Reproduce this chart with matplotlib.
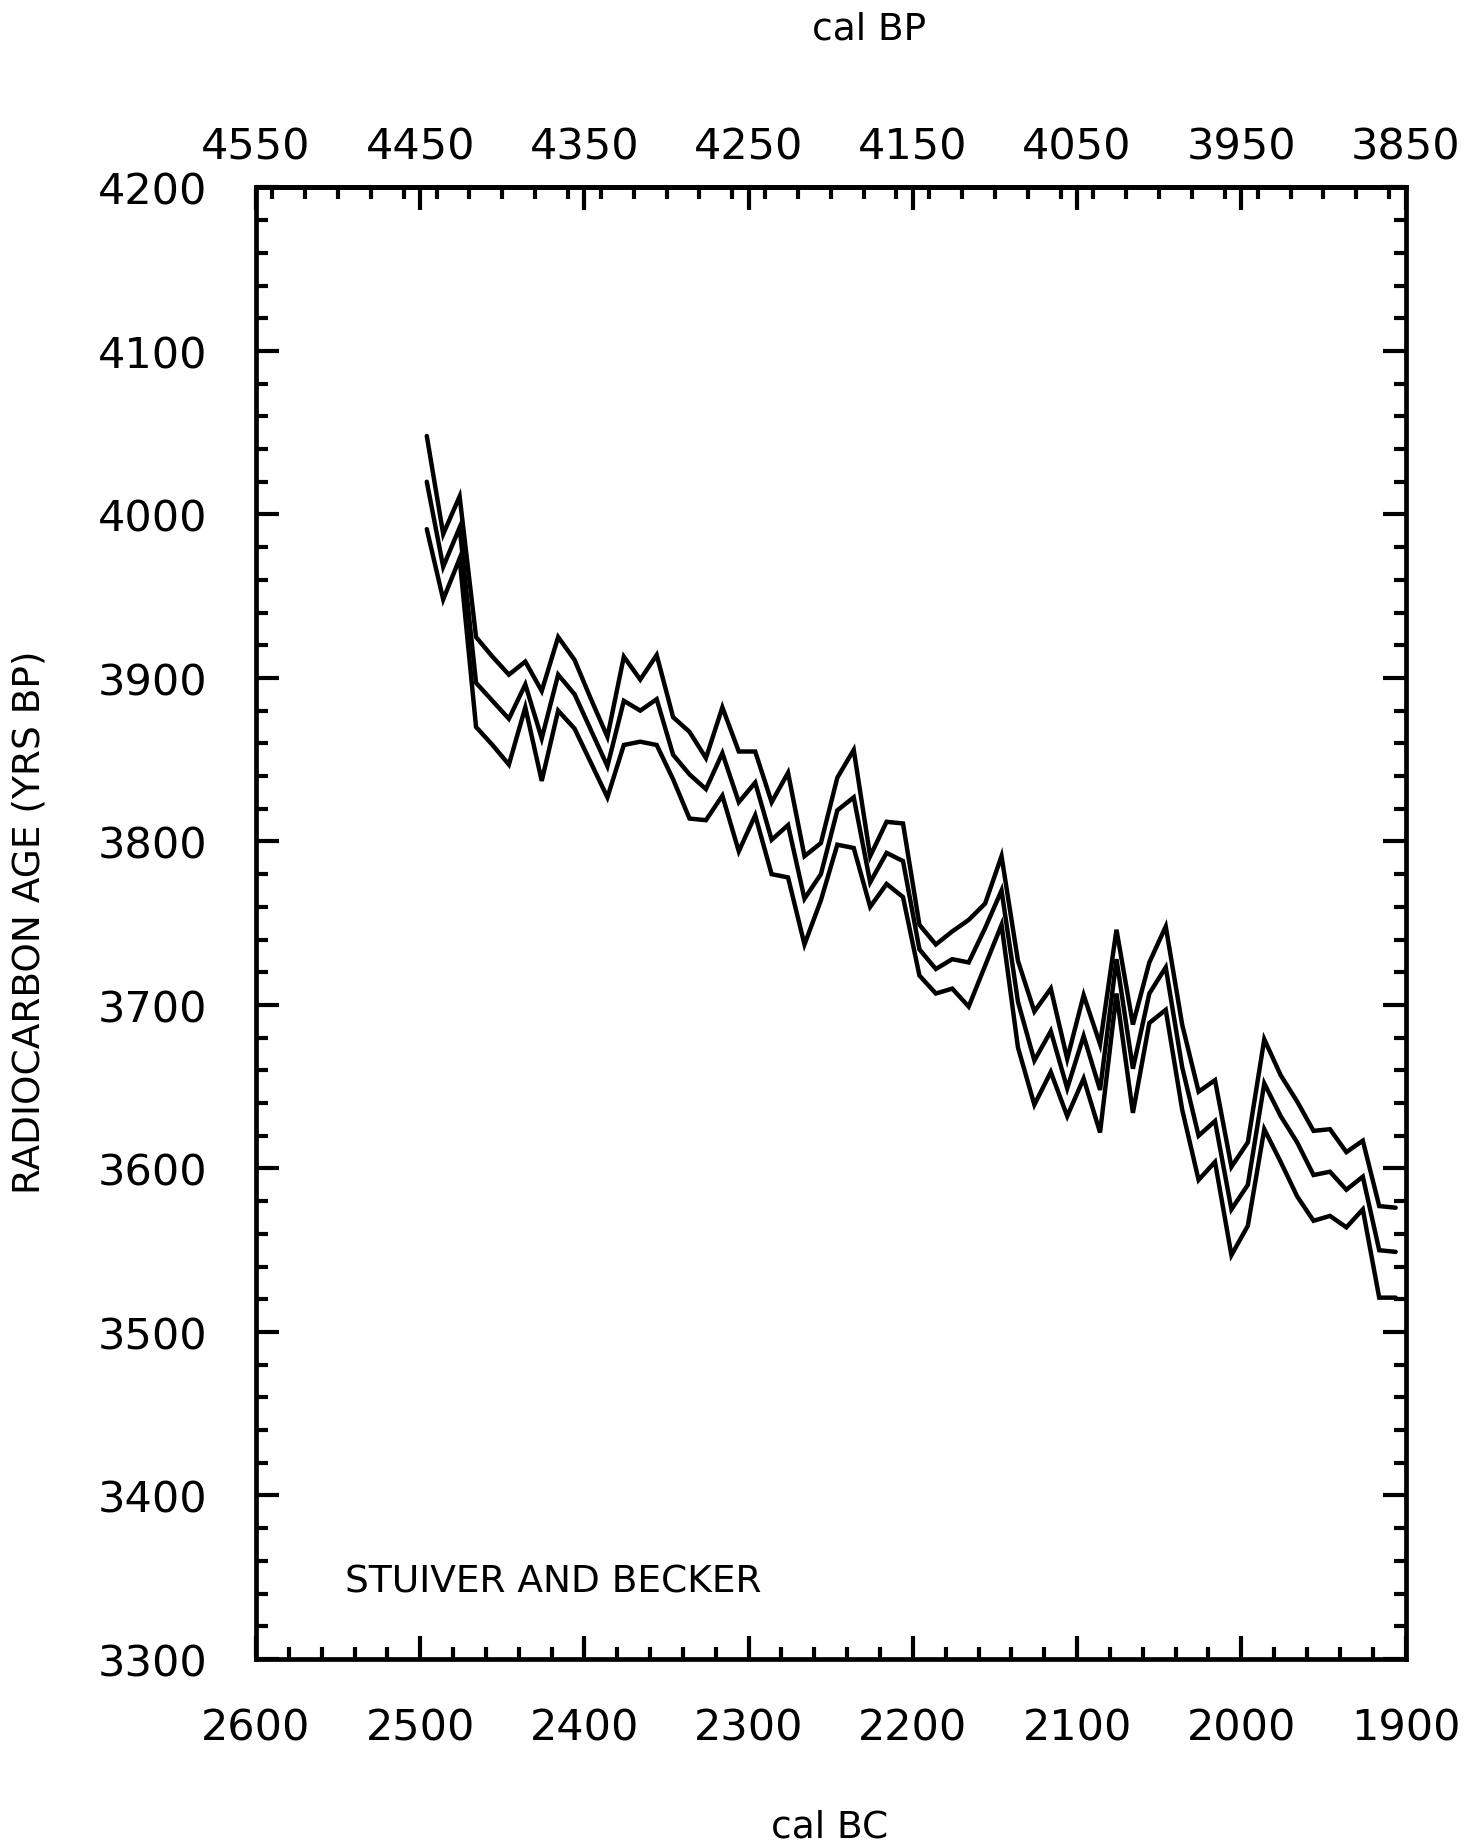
import matplotlib
matplotlib.use("Agg")
import matplotlib.pyplot as plt
from matplotlib.ticker import FixedLocator, MultipleLocator

# Calibrated decadal radiocarbon ages (central curve with its +/- 1 sigma band)
cal_bc = [2496, 2486, 2476, 2466, 2456, 2446, 2436, 2426, 2416, 2406,
          2396, 2386, 2376, 2366, 2356, 2346, 2336, 2326, 2316, 2306,
          2296, 2286, 2276, 2266, 2256, 2246, 2236, 2226, 2216, 2206,
          2196, 2186, 2176, 2166, 2156, 2146, 2136, 2126, 2116, 2106,
          2096, 2086, 2076, 2066, 2056, 2046, 2036, 2026, 2016, 2006,
          1996, 1986, 1976, 1966, 1956, 1946, 1936, 1926, 1916, 1906]

age_upper = [4048, 3988, 4011, 3925, 3913, 3902, 3910, 3892, 3925, 3911,
             3887, 3864, 3913, 3899, 3914, 3876, 3867, 3851, 3882, 3855,
             3855, 3824, 3842, 3791, 3799, 3839, 3856, 3791, 3812, 3811,
             3749, 3737, 3745, 3752, 3762, 3791, 3727, 3696, 3710, 3667,
             3706, 3676, 3746, 3688, 3726, 3748, 3688, 3647, 3654, 3601,
             3616, 3679, 3657, 3641, 3623, 3624, 3610, 3617, 3577, 3576]

age_mid = [4020, 3968, 3992, 3897, 3886, 3875, 3896, 3863, 3902, 3890,
           3868, 3846, 3886, 3880, 3887, 3853, 3841, 3832, 3854, 3824,
           3836, 3801, 3810, 3765, 3780, 3819, 3827, 3775, 3793, 3788,
           3734, 3722, 3728, 3726, 3747, 3770, 3702, 3666, 3684, 3649,
           3681, 3648, 3728, 3661, 3707, 3723, 3662, 3620, 3629, 3575,
           3590, 3652, 3632, 3616, 3596, 3598, 3587, 3595, 3550, 3549]

age_lower = [3991, 3948, 3973, 3870, 3859, 3847, 3882, 3837, 3880, 3869,
             3848, 3827, 3859, 3861, 3859, 3838, 3814, 3813, 3828, 3794,
             3816, 3780, 3778, 3737, 3764, 3798, 3796, 3760, 3774, 3766,
             3718, 3707, 3710, 3699, 3724, 3749, 3674, 3639, 3659, 3632,
             3655, 3622, 3707, 3634, 3689, 3697, 3636, 3593, 3604, 3547,
             3565, 3624, 3604, 3583, 3568, 3571, 3564, 3575, 3521, 3521]

bc_ticks = [2600, 2500, 2400, 2300, 2200, 2100, 2000, 1900]
bp_ticks = [4550, 4450, 4350, 4250, 4150, 4050, 3950, 3850]
age_ticks = [3300, 3400, 3500, 3600, 3700, 3800, 3900, 4000, 4100, 4200]

plt.rcParams["font.family"] = ["DejaVu Sans"]

W, H = 1475, 1849
fig = plt.figure(figsize=(W / 100, H / 100), dpi=100)
left, right, top, bottom = 256, 1405.5, 188.4, 1660
ax = fig.add_axes([left / W, 1 - bottom / H, (right - left) / W, (bottom - top) / H])

for series in (age_upper, age_mid, age_lower):
    ax.plot(cal_bc, series, color="black", lw=3.2,
            solid_joinstyle="miter", solid_capstyle="round")

ax.set_xlim(2600, 1900)
ax.set_ylim(3300, 4200)

for sp in ax.spines.values():
    sp.set_linewidth(3.4)

ax.xaxis.set_major_locator(FixedLocator(bc_ticks))
ax.xaxis.set_minor_locator(MultipleLocator(20))
ax.yaxis.set_major_locator(FixedLocator(age_ticks))
ax.yaxis.set_minor_locator(MultipleLocator(20))

ax.tick_params(axis="both", which="both", direction="in", width=3.0,
               right=True, top=False, labelsize=31)
ax.tick_params(axis="both", which="major", length=16.5)
ax.tick_params(axis="both", which="minor", length=8.6)
ax.tick_params(axis="x", which="major", pad=34)
ax.tick_params(axis="y", which="major", pad=35)

# Calendar years before present along the top edge
sec = ax.secondary_xaxis("top", functions=(lambda x: x + 1950, lambda x: x - 1950))
sec.xaxis.set_major_locator(FixedLocator(bp_ticks))
sec.xaxis.set_minor_locator(MultipleLocator(20))
sec.tick_params(which="both", direction="in", width=3.0, labelsize=31)
sec.tick_params(which="major", length=16.5, pad=14)
sec.tick_params(which="minor", length=8.6)
sec.spines["top"].set_linewidth(3.4)

ax.text(0.077, 0.053, "STUIVER AND BECKER", transform=ax.transAxes,
        fontsize=27, ha="left", va="center")

fig.text(869 / W, 1 - 29 / H, "cal BP", fontsize=27, ha="center", va="center")
fig.text(830 / W, 1 - 1828 / H, "cal BC", fontsize=27, ha="center", va="center")
fig.text(29.5 / W, 1 - 922 / H, "RADIOCARBON AGE (YRS BP)", fontsize=27,
         rotation=90, ha="center", va="center")

fig.savefig("out.png", dpi=100, facecolor="white")
